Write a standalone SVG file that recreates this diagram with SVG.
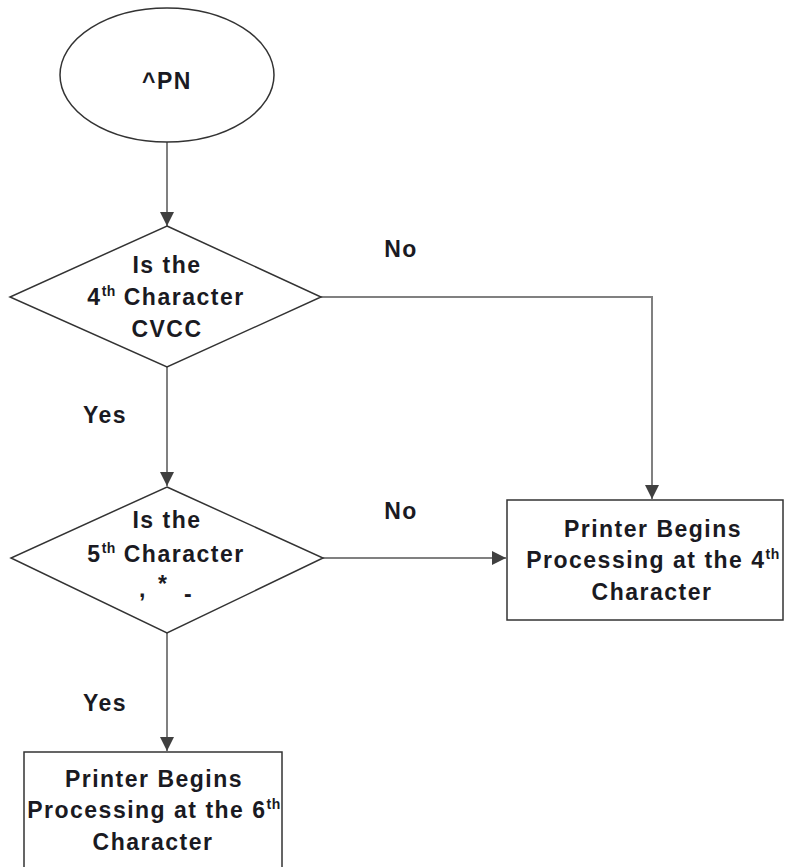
<svg xmlns="http://www.w3.org/2000/svg" width="785" height="867" viewBox="0 0 785 867">
<style>
.shape{fill:#fff;stroke:#333;stroke-width:1.5}
.conn{fill:none;stroke:#808080;stroke-width:2}
text{font-family:"Liberation Sans",Arial,sans-serif;font-weight:bold;font-size:23px;letter-spacing:1.5px;fill:#1a1a22;text-anchor:middle}
.sup{font-size:14px;letter-spacing:0.5px}
.sym{text-anchor:start;letter-spacing:0}
</style>
<defs>
<marker id="a" viewBox="0 0 14 14" markerWidth="14" markerHeight="14" refX="14" refY="7" orient="auto" markerUnits="userSpaceOnUse">
<path d="M0,0 L14,7 L0,14 z" fill="#404040"/>
</marker>
</defs>
<g id="connectors">
<line class="conn" x1="167" y1="142" x2="167" y2="226" marker-end="url(#a)"/>
<line class="conn" x1="167" y1="367" x2="167" y2="486" marker-end="url(#a)"/>
<polyline class="conn" points="321,297 652,297 652,499" marker-end="url(#a)"/>
<line class="conn" x1="323" y1="558" x2="506" y2="558" marker-end="url(#a)"/>
<line class="conn" x1="167" y1="633" x2="167" y2="751" marker-end="url(#a)"/>
</g>
<g id="start">
<ellipse class="shape" cx="167" cy="75" rx="107" ry="67"/>
<text x="167" y="89">^PN</text>
</g>
<g id="decision1">
<polygon class="shape" points="167,226 321,297 167,367 10,297"/>
<text x="167" y="273">Is the</text>
<text x="166" y="305">4<tspan class="sup" dy="-9">th</tspan><tspan dy="9"> Character</tspan></text>
<text x="167" y="337">CVCC</text>
</g>
<g id="decision2">
<polygon class="shape" points="167,487 323,558 167,633 11,558"/>
<text x="167" y="528">Is the</text>
<text x="166" y="562">5<tspan class="sup" dy="-9">th</tspan><tspan dy="9"> Character</tspan></text>
<text class="sym" y="597"><tspan x="139">,</tspan><tspan x="158" y="592">*</tspan><tspan x="184" y="602">-</tspan></text>
</g>
<g id="box4">
<rect class="shape" x="507" y="500" width="276" height="120"/>
<text x="653" y="537">Printer Begins</text>
<text x="653" y="568">Processing at the 4<tspan class="sup" dy="-9">th</tspan></text>
<text x="652" y="600">Character</text>
</g>
<g id="box6">
<rect class="shape" x="24" y="752" width="258" height="125"/>
<text x="154" y="787">Printer Begins</text>
<text x="154" y="818">Processing at the 6<tspan class="sup" dy="-9">th</tspan></text>
<text x="153" y="850">Character</text>
</g>
<g id="labels">
<text x="401" y="257">No</text>
<text x="401" y="519">No</text>
<text x="105" y="423">Yes</text>
<text x="105" y="711">Yes</text>
</g>
</svg>
